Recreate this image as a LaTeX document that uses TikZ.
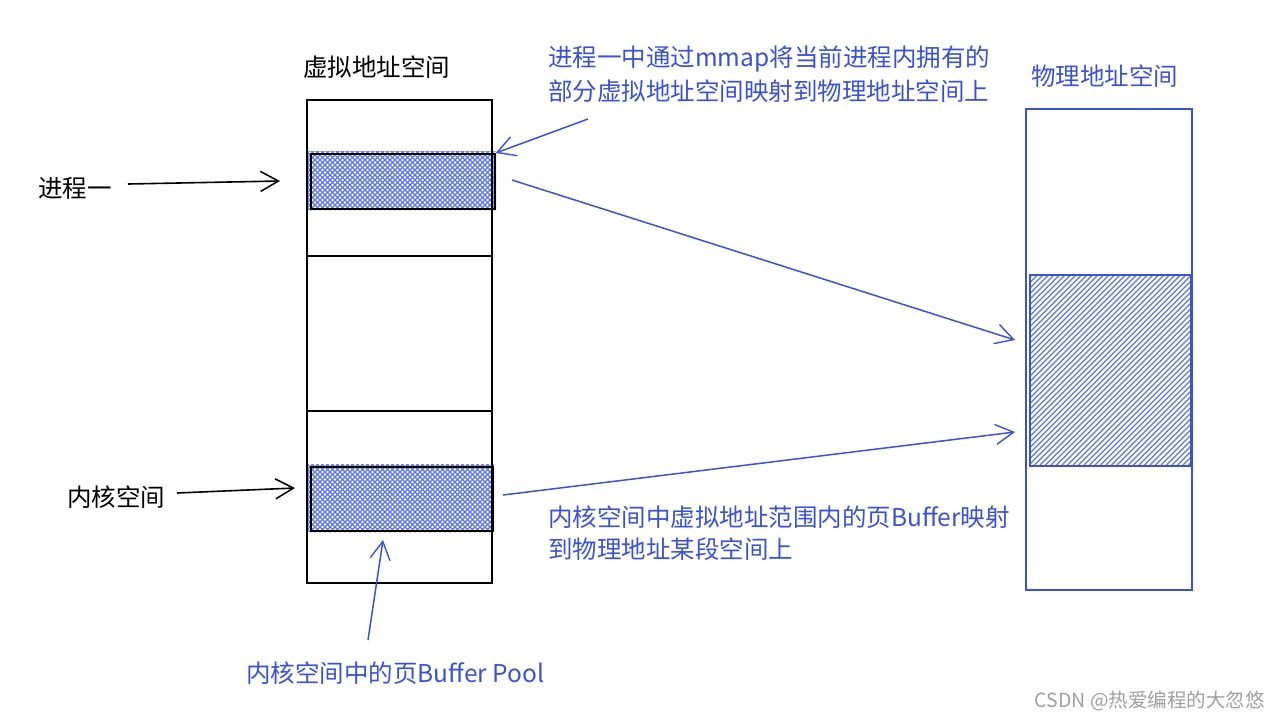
\documentclass[tikz,border=0pt]{standalone}
\usepackage{fontspec}
\setmainfont{Noto Sans CJK SC}
\usetikzlibrary{arrows.meta}
\definecolor{sketchblue}{RGB}{58,82,212}
\definecolor{hatchblue}{RGB}{92,118,228}
\definecolor{wmgray}{RGB}{160,160,160}
\tikzset{
  lbl/.style={font=\fontsize{24.5}{28}\selectfont, inner sep=0pt, anchor=west},
  bluelbl/.style={lbl, text=sketchblue},
  frame/.style={draw=black, line width=1.7pt},
  bluearrow/.style={draw=sketchblue, line width=1.5pt, -{Straight Barb[length=18pt,width=20pt,line width=1.4pt]}},
  blackarrow/.style={draw=black, line width=1.6pt, -{Straight Barb[length=18pt,width=20pt,line width=1.5pt]}},
  hatch/.style={draw=hatchblue, line width=1.1pt},
}
\begin{document}
\begin{tikzpicture}[x=1pt,y=-1pt]
\useasboundingbox (0,0) rectangle (1280,721);
\fill[white] (0,0) rectangle (1280,721);

% ---- cross-hatched regions (left) ----
\begin{scope}
\clip (308,151) rectangle (496,210);
\foreach \i in {-80,-75,...,560} {
  \draw[hatch] (\i,210) -- ++(70,-70);
  \draw[hatch] (\i,140) -- ++(70,70);
}
\end{scope}
\begin{scope}
\clip (308,464) rectangle (494,532);
\foreach \i in {-90,-85,...,560} {
  \draw[hatch] (\i,532) -- ++(80,-80);
  \draw[hatch] (\i,452) -- ++(80,80);
}
\end{scope}
% ---- single hatch (right) ----
\begin{scope}
\clip (1029,274) rectangle (1190,465);
\foreach \i in {820,825.5,...,1200} {
  \draw[hatch] (\i,465) -- ++(200,-200);
}
\end{scope}

% ---- left (virtual) box ----
\node[lbl] (vtitle) at (303,67) {虚拟地址空间};
\draw[frame] (307,100) rectangle (492,583);
\coordinate (d1l) at (307,256); \coordinate (d1r) at (492,256);
\coordinate (d2l) at (307,411); \coordinate (d2r) at (492,411);
\draw[frame] (d1l) -- (d1r);
\draw[frame] (d2l) -- (d2r);
\node[frame, inner sep=0pt, minimum width=184pt, minimum height=55pt, anchor=north west] (proc) at (310,153) {};
\node[frame, inner sep=0pt, minimum width=182pt, minimum height=64pt, anchor=north west] (kern) at (310,466) {};

% ---- right (physical) box ----
\node[bluelbl] (ptitle) at (1031,76) {物理地址空间};
\draw[draw=sketchblue, line width=2.2pt] (1026,109) rectangle (1192,590);
\node[draw=sketchblue, line width=1.6pt, inner sep=0pt, minimum width=161pt, minimum height=191pt, anchor=north west] (phys) at (1029,274) {};

% ---- labels ----
\node[lbl] (p1) at (38,188) {进程一};
\node[lbl] (ks) at (67,497) {内核空间};
\node[bluelbl, align=left, font=\fontsize{24.5}{34}\selectfont] (t1) at (548,74) {进程一中通过mmap将当前进程内拥有的\\部分虚拟地址空间映射到物理地址空间上};
\node[bluelbl, align=left, font=\fontsize{24.5}{32}\selectfont] (t2) at (548,533) {内核空间中虚拟地址范围内的页Buffer映射\\到物理地址某段空间上};
\node[bluelbl] (t3) at (246,673) {内核空间中的页Buffer Pool};
\node[font=\fontsize{19.5}{22}\selectfont, text=wmgray, anchor=east, inner sep=0pt] (wm) at (1265,701) {CSDN @热爱编程的大忽悠};

% ---- arrows ----
\coordinate (a1s) at (128,184); \coordinate (a1e) at (280,181);
\draw[blackarrow] (a1s) -- (a1e);
\coordinate (a2s) at (177,493); \coordinate (a2e) at (295,488);
\draw[blackarrow] (a2s) -- (a2e);
\coordinate (a3s) at (588,119);
\draw[bluearrow] (a3s) -- (proc.north east);
\coordinate (a4s) at (512,180); \coordinate (a4e) at (1015,340);
\draw[bluearrow] (a4s) -- (a4e);
\coordinate (a5s) at (503,495); \coordinate (a5e) at (1015,432);
\draw[bluearrow] (a5s) -- (a5e);
\coordinate (a6s) at (368,640); \coordinate (a6e) at (383,540);
\draw[bluearrow] (a6s) -- (a6e);
\end{tikzpicture}
\end{document}
